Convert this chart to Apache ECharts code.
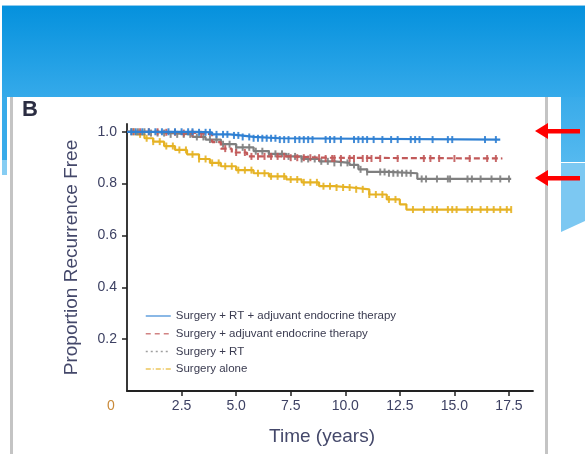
<!DOCTYPE html>
<html>
<head>
<meta charset="utf-8">
<script src="https://cdn.jsdelivr.net/npm/echarts@6/dist/echarts.min.js"></script>
<style>
html,body{margin:0;padding:0;background:#ffffff;}
#chart{width:585px;height:454px;}
</style>
</head>
<body>
<div id="chart"></div>
<script>
// ---- data ----
const seriesNames = [
  'Surgery + RT + adjuvant endocrine therapy',
  'Surgery + adjuvant endocrine therapy',
  'Surgery + RT',
  'Surgery alone'
];
// Kaplan-Meier step points: times (years) and survival proportions
const blueT = [0, 3.2, 3.9, 4.7, 5.2, 5.8, 7.0, 17.1];
const blueS = [1.0, 0.998, 0.99, 0.986, 0.98, 0.975, 0.97, 0.968];
const redT = [0, 1.5, 2.5, 3.3, 3.9, 4.3, 4.8, 5.5, 7.5, 9.0, 17.2];
const redS = [1.0, 0.998, 0.995, 0.99, 0.96, 0.935, 0.92, 0.905, 0.90, 0.897, 0.897];
const greyT = [0, 1.0, 2.0, 3.0, 3.6, 4.3, 5.0, 5.8, 6.5, 7.3, 8.0, 8.8, 9.5, 10.2, 10.6, 11.0, 12.0, 13.3, 17.6];
const greyS = [1.0, 0.995, 0.99, 0.98, 0.97, 0.952, 0.94, 0.925, 0.915, 0.905, 0.895, 0.886, 0.88, 0.872, 0.855, 0.845, 0.84, 0.818, 0.818];
const yellowT = [0, 0.4, 0.8, 1.2, 1.7, 2.2, 2.75, 3.3, 3.8, 4.3, 5.0, 5.8, 6.5, 7.3, 8.0, 8.8, 9.5, 10.3, 11.1, 11.9, 12.5, 12.8, 17.6];
const yellowS = [1.0, 0.99, 0.975, 0.962, 0.945, 0.93, 0.913, 0.895, 0.88, 0.867, 0.852, 0.84, 0.828, 0.816, 0.805, 0.79, 0.785, 0.778, 0.758, 0.739, 0.72, 0.70, 0.70];
// censoring times (years)
const blueCens = [0.2,0.4,0.7,1.0,1.3,1.6,1.9,2.2,2.5,2.8,3.0,3.3,3.6,3.8,4.1,4.4,4.6,4.9,5.1,5.3,5.6,5.8,6.0,6.2,6.4,6.6,6.8,7.0,7.2,7.4,7.7,7.9,8.1,8.3,8.5,9.1,9.3,9.5,9.8,10.4,10.6,10.8,11.0,11.3,11.7,12.1,12.4,13.0,13.2,13.4,14.0,14.7,14.9,16.4,16.9];
const redCens = [0.3,0.6,1.0,1.4,1.8,2.2,2.6,3.0,3.4,4.5,5.0,5.4,5.7,6.0,6.3,6.6,6.9,7.2,7.5,7.8,8.1,8.4,8.8,9.1,9.4,9.5,9.8,10.2,10.4,10.8,11.0,11.2,11.6,12.4,13.6,13.9,14.3,15.0,15.7,16.5,16.9];
const greyCens = [0.2,0.5,0.8,1.1,1.4,1.7,2.0,2.3,2.6,2.9,3.2,3.5,3.8,4.1,4.4,4.7,5.0,5.3,5.6,5.9,6.2,6.5,6.8,7.1,7.4,7.7,8.0,8.3,8.6,8.9,9.2,9.5,9.8,10.1,10.4,10.7,11.0,11.6,11.8,12.0,12.2,12.4,12.6,12.8,13.0,13.5,13.7,14.2,14.7,14.8,15.6,15.8,16.2,16.7,17.1,17.5];
const yellowCens = [0.3,0.6,0.9,1.2,1.5,1.8,2.1,2.4,2.7,3.0,3.3,3.6,3.9,4.2,4.5,4.8,5.1,5.4,5.7,6.0,6.3,6.6,6.9,7.2,7.5,7.8,8.1,8.4,8.7,9.0,9.3,9.6,9.9,10.2,10.5,10.8,11.1,11.4,11.7,12.0,12.3,13.1,13.6,14.0,14.2,14.7,14.9,15.1,15.6,15.8,16.2,16.5,16.8,17.1,17.4,17.6];
const xTicks = [2.5, 5.0, 7.5, 10.0, 12.5, 15.0, 17.5];
const xLabels = [0, 2.5, 5.0, 7.5, 10.0, 12.5, 15.0, 17.5];
const yTicks = [0.2, 0.4, 0.6, 0.8, 1.0];

// ---- helpers ----
function pairs(T, S) { return T.map((t, i) => [t, S[i]]); }
function survAt(T, S, t) {
  let v = S[0];
  for (let i = 0; i < T.length; i++) { if (T[i] <= t) v = S[i]; }
  return v;
}
function cens(T, S, C) { return C.map(t => [t, survAt(T, S, t)]); }

const colors = ['#2f80d3', '#c25a5a', '#7f7f7f', '#e5b224'];
const curves = [[blueT, blueS, blueCens], [redT, redS, redCens], [greyT, greyS, greyCens], [yellowT, yellowS, yellowCens]];
const lineTypes = ['solid', [6, 3], 'solid', 'solid'];
const legendTypes = ['solid', [5, 4], [2, 3], [5, 2, 1, 2]];

const series = [];
curves.forEach((c, i) => {
  series.push({
    name: seriesNames[i], type: 'line', step: 'end', symbol: 'none',
    data: pairs(c[0], c[1]), z: 3 + (3 - i),
    lineStyle: { color: colors[i], width: 2.2, type: lineTypes[i] },
    itemStyle: { color: colors[i] }, silent: true
  });
  series.push({
    name: 'cens' + i, type: 'scatter', symbol: 'rect', symbolSize: [2, 7],
    data: cens(c[0], c[1], c[2]), z: 3 + (3 - i),
    itemStyle: { color: colors[i], opacity: 0.9 }, silent: true
  });
});

const textColor = '#3d4163';
const chart = echarts.init(document.getElementById('chart'), null, { renderer: 'canvas' });
chart.setOption({
  backgroundColor: '#ffffff',
  animation: false,
  textStyle: { fontFamily: 'Liberation Sans, Arial, sans-serif' },
  graphic: [
    { type: 'rect', shape: { x: 2, y: 5, width: 583, height: 1 }, style: { fill: '#8fcbee' }, z: -10 },
    { type: 'rect', shape: { x: 2, y: 6, width: 583, height: 91 },
      style: { fill: new echarts.graphic.LinearGradient(0, 0, 0, 1, [{ offset: 0, color: '#0591dd' }, { offset: 1, color: '#35aaea' }]) }, z: -10 },
    { type: 'rect', shape: { x: 2, y: 97, width: 5, height: 63 }, style: { fill: '#38abea' }, z: -10 },
    { type: 'rect', shape: { x: 2, y: 160, width: 5, height: 15 }, style: { fill: '#86cdf3' }, z: -10 },
    { type: 'polygon', shape: { points: [[561, 97], [585, 97], [585, 162], [561, 162]] },
      style: { fill: new echarts.graphic.LinearGradient(0, 0, 0, 1, [{ offset: 0, color: '#38abea' }, { offset: 1, color: '#55b9ef' }]) }, z: -10 },
    { type: 'polygon', shape: { points: [[561, 163], [585, 163], [585, 221], [561, 232]] }, style: { fill: '#7cc8f2' }, z: -10 },
    { type: 'rect', shape: { x: 10, y: 97, width: 3, height: 357 }, style: { fill: '#c4c4c4' }, z: -9 },
    { type: 'rect', shape: { x: 545, y: 97, width: 3, height: 357 }, style: { fill: '#c4c4c4' }, z: -9 },
    { type: 'text', left: 22, top: 99, style: { text: 'B', font: 'bold 22px Liberation Sans, Arial, sans-serif', fill: '#2b2d42' }, z: 10 },
    { type: 'polygon', shape: { points: [[535, 131], [548, 123], [548, 129], [580, 129], [580, 133.5], [548, 133.5], [548, 139]] }, style: { fill: '#ff0000' }, z: 10 },
    { type: 'polygon', shape: { points: [[535, 178], [548, 170], [548, 176], [580, 176], [580, 180.5], [548, 180.5], [548, 186]] }, style: { fill: '#ff0000' }, z: 10 }
  ],
  grid: { left: 127, right: 52, top: 124, bottom: 63, containLabel: false },
  legend: {
    orient: 'vertical', left: 140, top: 305, itemWidth: 25, itemHeight: 14, itemGap: 5.7,
    textStyle: { fontSize: 11.5, color: '#3a3b50' },
    itemStyle: { opacity: 0 },
    data: seriesNames.map((n, i) => ({ name: n, lineStyle: { type: legendTypes[i], width: 1.5, color: colors[i], opacity: 0.75 } })),
    selectedMode: false
  },
  xAxis: {
    type: 'value', min: 0, max: 18.6,
    name: 'Time (years)', nameLocation: 'middle', nameGap: 36,
    nameTextStyle: { fontSize: 19, color: '#44486a', padding: [0, 16, 0, 0] },
    axisLine: { show: true, lineStyle: { color: '#222', width: 1.8 } },
    axisTick: { show: true, length: 5, lineStyle: { color: '#222', width: 1.5 }, customValues: xTicks },
    axisLabel: {
      customValues: xLabels, margin: 8, fontSize: 14, color: textColor,
      formatter: v => (v === 0 ? '{z|0}' : v.toFixed(1)),
      rich: { z: { fontSize: 14, color: '#c98a3a', padding: [0, 32, 0, 0] } }
    },
    splitLine: { show: false }
  },
  yAxis: {
    type: 'value', min: 0, max: 1.03,
    name: 'Proportion Recurrence Free', nameLocation: 'middle', nameGap: 46, nameRotate: 90,
    nameTextStyle: { fontSize: 19, color: '#44486a' },
    axisLine: { show: true, lineStyle: { color: '#222', width: 1.8 } },
    axisTick: { show: true, length: 5, lineStyle: { color: '#222', width: 1.5 }, customValues: yTicks },
    axisLabel: { customValues: yTicks, margin: 10, fontSize: 14, color: textColor, formatter: v => v.toFixed(1) },
    splitLine: { show: false }
  },
  series: series
});
</script>
</body>
</html>
